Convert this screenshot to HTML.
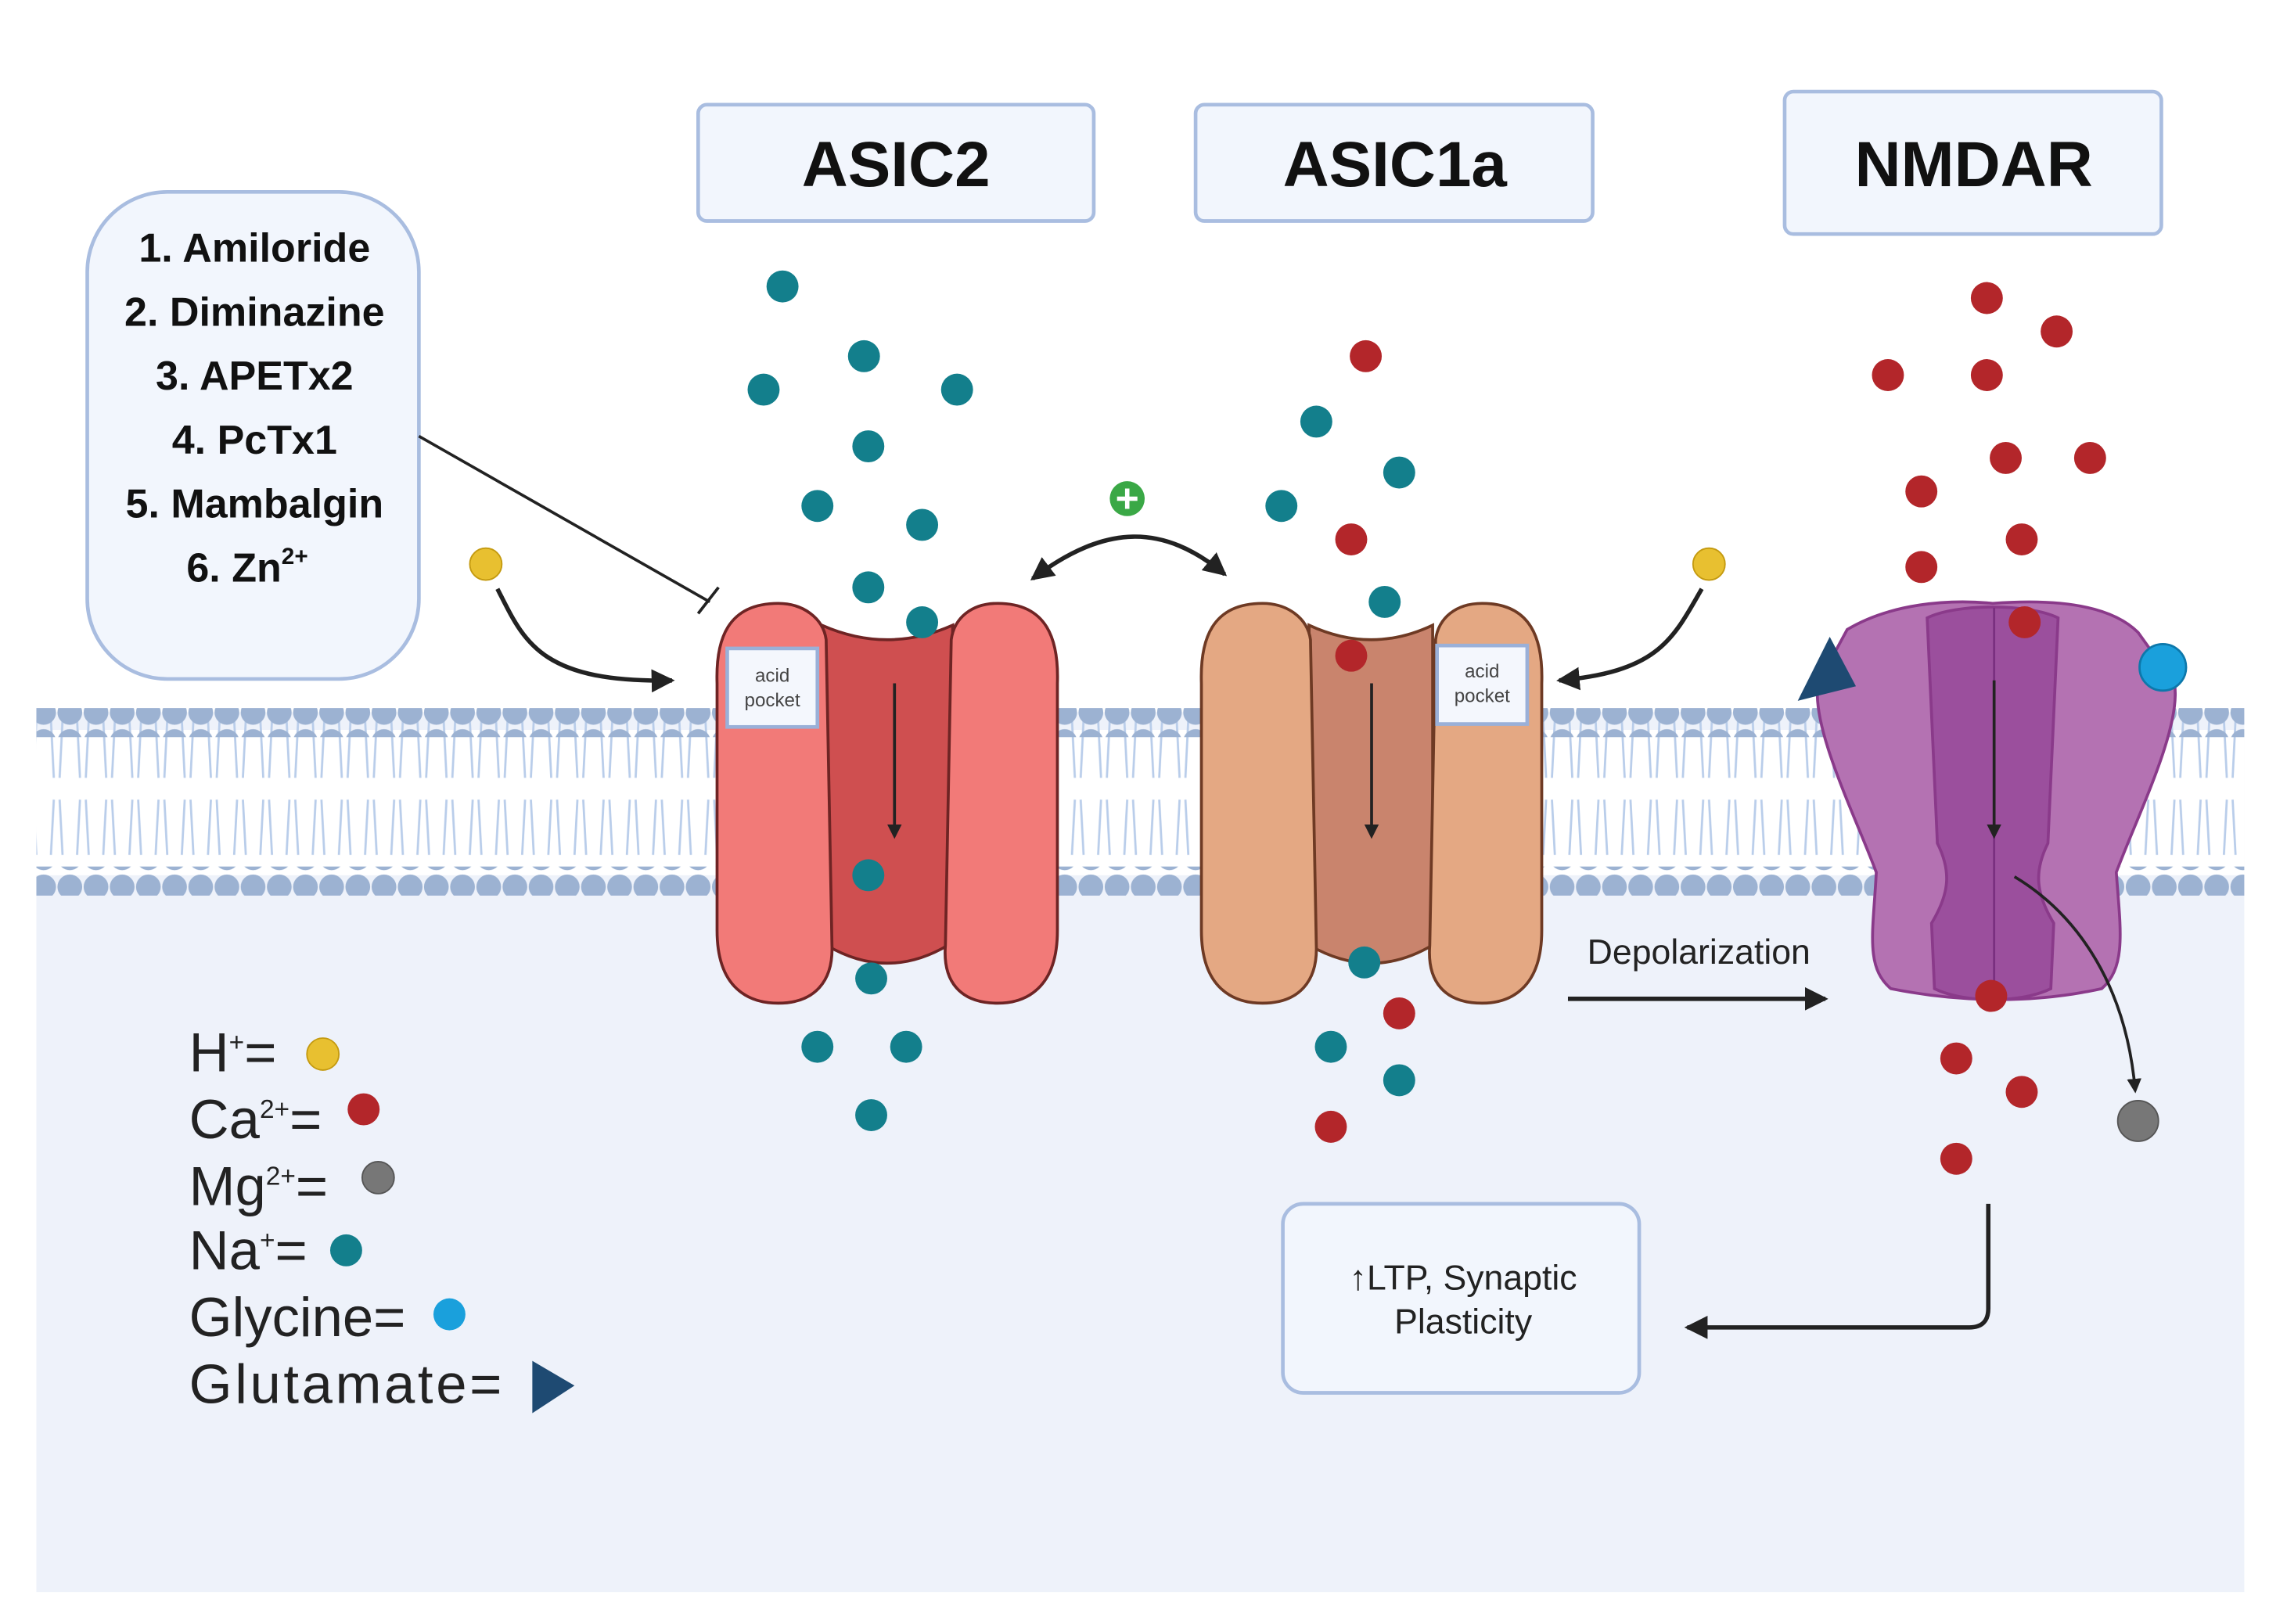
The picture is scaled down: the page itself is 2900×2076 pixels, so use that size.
<!DOCTYPE html>
<html><head><meta charset="utf-8"><style>
html,body{margin:0;padding:0;background:#fff}
svg{display:block}
text{font-family:"Liberation Sans",sans-serif}
</style></head><body>
<svg width="2900" height="2076" viewBox="0 0 1560 1117" preserveAspectRatio="none" xmlns="http://www.w3.org/2000/svg">
<defs>
<marker id="ah" markerWidth="10" markerHeight="10" refX="8" refY="5" orient="auto" markerUnits="userSpaceOnUse"><path d="M0,0 L10,5 L0,10 z" fill="#222"/></marker>
<marker id="ahb" markerWidth="16" markerHeight="16" refX="14" refY="8" orient="auto-start-reverse" markerUnits="userSpaceOnUse"><path d="M0,0 L16,8 L0,16 z" fill="#222"/></marker>
<pattern id="tails" x="30" y="0" width="18" height="120" patternUnits="userSpaceOnUse">
<path d="M5,505 L7,545 M13,505 L11,545 M5,598 L7,560 M13,598 L11,560" stroke="#b9cdea" stroke-width="1.5" fill="none" transform="translate(0,-490)"/>
</pattern>
<pattern id="heads" x="21" y="0" width="18" height="20" patternUnits="userSpaceOnUse"><circle cx="9" cy="10" r="8.5" fill="#9cb2d2"/></pattern>
</defs>
<rect x="25" y="490" width="1518" height="605" fill="#eef2fa"/>
<rect x="25" y="502" width="1518" height="100" fill="#fff"/>
<rect x="25" y="490" width="1518" height="120" fill="url(#tails)"/>
<rect x="25" y="487" width="1518" height="20" fill="url(#heads)"/>
<rect x="25" y="596" width="1518" height="20" fill="url(#heads)"/>

<g fill="#f2f6fd" stroke="#a9bde0" stroke-width="2.5">
<rect x="480" y="72" width="272" height="80" rx="6"/>
<rect x="822" y="72" width="273" height="80" rx="6"/>
<rect x="1227" y="63" width="259" height="98" rx="6"/>
<rect x="60" y="132" width="228" height="335" rx="55"/>
<rect x="882" y="828" width="245" height="130" rx="14"/>
</g>
<g font-weight="bold" font-size="44" text-anchor="middle" fill="#111">
<text x="616" y="128">ASIC2</text>
<text x="959" y="128">ASIC1a</text>
<text x="1357" y="128">NMDAR</text>
</g>
<g font-weight="bold" font-size="28" text-anchor="middle" fill="#111">
<text x="175" y="180">1. Amiloride</text>
<text x="175" y="224">2. Diminazine</text>
<text x="175" y="268">3. APETx2</text>
<text x="175" y="312">4. PcTx1</text>
<text x="175" y="356">5. Mambalgin</text>
<text x="170" y="400">6. Zn<tspan font-size="16" dy="-12">2+</tspan></text>
</g>

<g stroke="#6e2424" stroke-width="2">
<path d="M565,430 Q610,450 655,430 L652,650 Q610,675 568,650 Z" fill="#cf4f50"/>
<path d="M535,415 C500,415 492,440 493,470 L493,640 C493,680 515,690 535,690 C560,690 573,675 572,650 L568,440 C566,425 552,415 535,415Z" fill="#f27a78"/>
<path d="M686,415 C720,415 728,440 727,470 L727,640 C727,680 705,690 686,690 C660,690 648,675 650,650 L654,440 C656,425 668,415 686,415Z" fill="#f27a78"/>
</g>
<g stroke="#6e3a24" stroke-width="2">
<path d="M900,430 Q943,450 985,430 L985,650 Q943,675 900,650 Z" fill="#c9846d"/>
<path d="M868,415 C833,415 825,440 826,470 L826,640 C826,680 848,690 868,690 C893,690 906,675 905,650 L901,440 C899,425 885,415 868,415Z" fill="#e4a883"/>
<path d="M1019,415 C1053,415 1061,440 1060,470 L1060,640 C1060,680 1038,690 1019,690 C993,690 981,675 983,650 L987,440 C989,425 1001,415 1019,415Z" fill="#e4a883"/>
</g>
<g fill="#f4f7fd" stroke="#9ab0d8" stroke-width="2.5">
<rect x="500" y="446" width="62" height="54"/>
<rect x="988" y="444" width="62" height="54"/>
</g>
<g font-size="13" text-anchor="middle" fill="#444">
<text x="531" y="469">acid</text><text x="531" y="486">pocket</text>
<text x="1019" y="466">acid</text><text x="1019" y="483">pocket</text>
</g>
<g stroke="#8a3a8a" stroke-width="2">
<path d="M1270,433 C1300,415 1340,412 1370,415 C1410,412 1450,415 1470,435 L1495,470 C1500,500 1470,560 1455,600 C1458,640 1462,665 1445,680 C1400,690 1350,690 1300,680 C1282,665 1288,640 1290,600 C1275,560 1245,500 1250,470 Z" fill="#b472b2"/>
<path d="M1325,425 C1345,415 1395,415 1415,425 L1408,580 C1398,600 1400,615 1412,635 L1410,680 C1390,690 1350,690 1330,680 L1328,635 C1340,615 1342,600 1332,580 Z" fill="#9b4f9d"/>
<line x1="1371" y1="418" x2="1371" y2="685" stroke="#7a3080" stroke-width="1.5"/>
</g>
<path d="M1236,482 L1258,438 L1276,472 Z" fill="#1e4a72"/>
<circle cx="1487" cy="459" r="16" fill="#1aa0dc" stroke="#0d78ab" stroke-width="1.5"/>

<g stroke="#222" stroke-width="2" fill="none">
<line x1="615" y1="470" x2="615" y2="575" marker-end="url(#ah)"/>
<line x1="943" y1="470" x2="943" y2="575" marker-end="url(#ah)"/>
<line x1="1371" y1="468" x2="1371" y2="575" marker-end="url(#ah)"/>
<path d="M1385,603 C1430,630 1462,680 1468,750" marker-end="url(#ah)"/>
<line x1="288" y1="300" x2="488" y2="414"/>
<line x1="480" y1="422" x2="494" y2="404"/>
</g>
<g stroke="#222" stroke-width="3" fill="none">
<path d="M342,405 C360,440 370,470 462,468" marker-end="url(#ahb)"/>
<path d="M1170,405 C1150,440 1140,462 1072,468" marker-end="url(#ahb)"/>
<path d="M710,398 C760,360 800,360 842,395" marker-end="url(#ahb)" marker-start="url(#ahb)"/>
<line x1="1078" y1="687" x2="1255" y2="687" marker-end="url(#ahb)"/>
<path d="M1367,828 L1367,900 Q1367,913 1354,913 L1160,913" marker-end="url(#ahb)"/>
</g>
<circle cx="775" cy="343" r="12" fill="#3aa846"/>
<path d="M768,343 H782 M775,336 V350" stroke="#fff" stroke-width="3"/>
<text x="1168" y="663" font-size="24" text-anchor="middle" fill="#222">Depolarization</text>
<text x="1006" y="887" font-size="24" text-anchor="middle" fill="#222">↑LTP, Synaptic</text>
<text x="1006" y="917" font-size="24" text-anchor="middle" fill="#222">Plasticity</text>

<g fill="#137f8c">
<circle cx="538" cy="197" r="11"/><circle cx="594" cy="245" r="11"/><circle cx="525" cy="268" r="11"/><circle cx="658" cy="268" r="11"/><circle cx="597" cy="307" r="11"/><circle cx="562" cy="348" r="11"/><circle cx="634" cy="361" r="11"/><circle cx="597" cy="404" r="11"/><circle cx="634" cy="428" r="11"/><circle cx="597" cy="602" r="11"/><circle cx="599" cy="673" r="11"/><circle cx="562" cy="720" r="11"/><circle cx="623" cy="720" r="11"/><circle cx="599" cy="767" r="11"/>
<circle cx="905" cy="290" r="11"/><circle cx="962" cy="325" r="11"/><circle cx="881" cy="348" r="11"/><circle cx="952" cy="414" r="11"/><circle cx="938" cy="662" r="11"/><circle cx="915" cy="720" r="11"/><circle cx="962" cy="743" r="11"/>
<circle cx="238" cy="860" r="11"/>
</g>
<g fill="#b3262a">
<circle cx="939" cy="245" r="11"/><circle cx="929" cy="371" r="11"/><circle cx="929" cy="451" r="11"/><circle cx="962" cy="697" r="11"/><circle cx="915" cy="775" r="11"/>
<circle cx="1366" cy="205" r="11"/><circle cx="1414" cy="228" r="11"/><circle cx="1298" cy="258" r="11"/><circle cx="1366" cy="258" r="11"/><circle cx="1379" cy="315" r="11"/><circle cx="1437" cy="315" r="11"/><circle cx="1321" cy="338" r="11"/><circle cx="1390" cy="371" r="11"/><circle cx="1321" cy="390" r="11"/><circle cx="1392" cy="428" r="11"/><circle cx="1369" cy="685" r="11"/><circle cx="1345" cy="728" r="11"/><circle cx="1390" cy="751" r="11"/><circle cx="1345" cy="797" r="11"/>
<circle cx="250" cy="763" r="11"/>
</g>
<g fill="#e8c030" stroke="#c49a10"><circle cx="334" cy="388" r="11"/><circle cx="1175" cy="388" r="11"/><circle cx="222" cy="725" r="11"/></g>
<g fill="#777" stroke="#555"><circle cx="1470" cy="771" r="14"/><circle cx="260" cy="810" r="11"/></g>
<circle cx="309" cy="904" r="11" fill="#1aa0dc"/>
<path d="M366,936 L395,953 L366,972 Z" fill="#1e4a72"/>

<g font-size="38" fill="#222">
<text x="130" y="737">H<tspan font-size="18" dy="-14">+</tspan><tspan dy="14">=</tspan></text>
<text x="130" y="783">Ca<tspan font-size="18" dy="-14">2+</tspan><tspan dy="14">=</tspan></text>
<text x="130" y="829">Mg<tspan font-size="18" dy="-14">2+</tspan><tspan dy="14">=</tspan></text>
<text x="130" y="873">Na<tspan font-size="18" dy="-14">+</tspan><tspan dy="14">=</tspan></text>
<text x="130" y="919">Glycine=</text>
<text x="130" y="965" textLength="215">Glutamate=</text>
</g>
</svg>
</body></html>
